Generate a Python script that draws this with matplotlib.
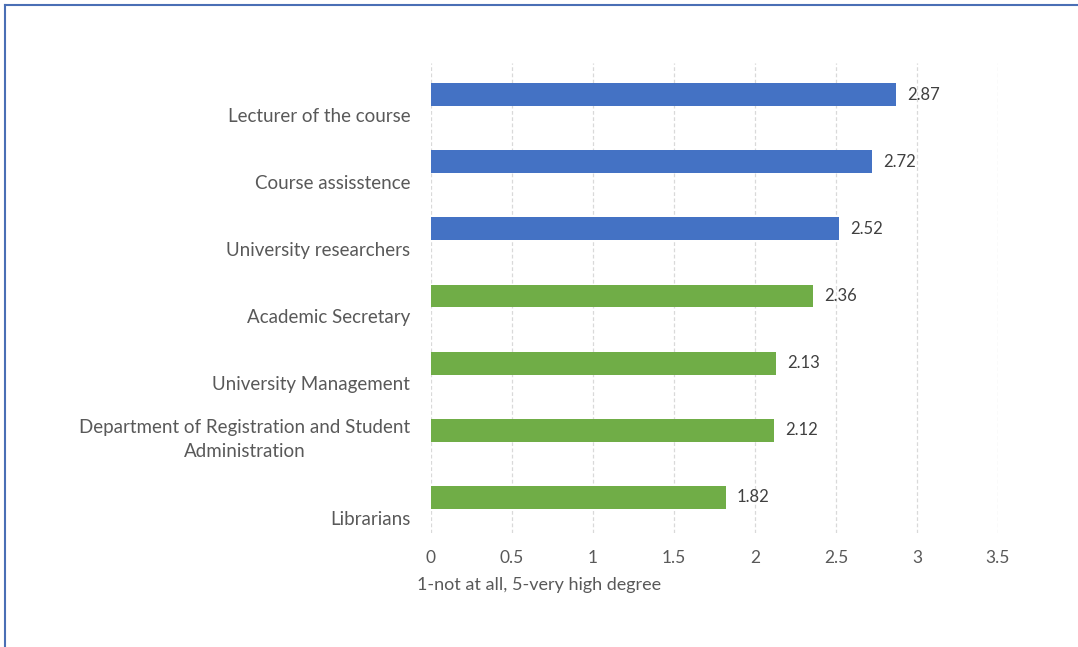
import matplotlib.pyplot as plt
import numpy as np
from matplotlib.lines import Line2D

categories = [
    "Lecturer of the course",
    "Course assisstence",
    "University researchers",
    "Academic Secretary",
    "University Management",
    "Department of Registration and Student\nAdministration",
    "Librarians",
]
values = [2.87, 2.72, 2.52, 2.36, 2.13, 2.12, 1.82]
groups = ["blue", "blue", "blue", "green", "green", "green", "green"]

colors = {"blue": "#4472C4", "green": "#70AD47"}

plt.rcParams["font.family"] = ["Lato", "DejaVu Sans"]

fig = plt.figure(figsize=(10.78, 6.47), dpi=100)
ax = fig.add_axes([431 / 1078, 1 - 533 / 647, 567 / 1078, 470 / 647])

y_pos = np.arange(len(categories))
ax.barh(y_pos - 0.03, values, height=0.34,
        color=[colors[g] for g in groups], zorder=3)

# value labels right of each bar
for i in range(len(values)):
    ax.annotate(f"{values[i]:.2f}", xy=(values[i], y_pos[i] - 0.03),
                xytext=(8, 0), textcoords="offset points",
                ha="left", va="center", color="#404040", fontsize=12)

ax.set_xlim(0, 3.5)
ax.set_ylim(len(categories) - 0.5, -0.5)
ax.set_xticks(np.arange(0, 3.51, 0.5))
ax.set_xticklabels(["0", "0.5", "1", "1.5", "2", "2.5", "3", "3.5"])

# category labels sit below the bars, like the excel original
ax.set_yticks(y_pos + 0.42)
ax.set_yticklabels(categories, fontsize=13.5)
for lbl in ax.get_yticklabels():
    lbl.set_verticalalignment("bottom")
    lbl.set_multialignment("center")
    lbl.set_linespacing(1.55)

ax.tick_params(axis="both", length=0, colors="#595959")
ax.tick_params(axis="x", pad=12, labelsize=12.5)
ax.tick_params(axis="y", pad=15)

for s in ax.spines.values():
    s.set_visible(False)
ax.grid(axis="x", color="#D9D9D9", linestyle=(0, (3, 2)), linewidth=0.9, zorder=0)
ax.grid(axis="y", visible=False)

fig.text(539 / 1078, 1 - 585 / 647, "1-not at all, 5-very high degree",
         ha="center", va="center", color="#595959", fontsize=13)

# chart border (left and top edges visible in the crop)
fig.add_artist(Line2D([5 / 1078, 5 / 1078], [0, 1 - 5 / 647],
                      transform=fig.transFigure, color="#4A6FB5", linewidth=1.5))
fig.add_artist(Line2D([5 / 1078, 1], [1 - 5 / 647, 1 - 5 / 647],
                      transform=fig.transFigure, color="#4A6FB5", linewidth=1.5))

fig.savefig("out.png", facecolor="white")
